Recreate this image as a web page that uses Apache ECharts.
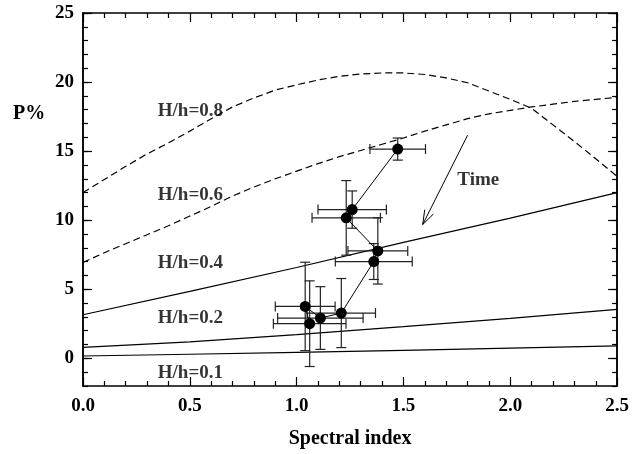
<!DOCTYPE html>
<html><head><meta charset="utf-8">
<script src="https://cdn.jsdelivr.net/npm/echarts@6/dist/echarts.min.js"></script>
<style>html,body{margin:0;padding:0;background:#fff}#c{width:632px;height:454px}</style>
</head><body><div id="c"></div>
<script>
// ---- data ----
const curveX = [0,0.1,0.2,0.3,0.4,0.5,0.6,0.7,0.8,0.9,1.0,1.1,1.2,1.3,1.4,1.5,1.6,1.7,1.8,1.9,2.0,2.1,2.2,2.3,2.4,2.5];
const h08 = [12.0,12.95,13.9,14.8,15.6,16.45,17.35,18.2,18.85,19.42,19.8,20.15,20.42,20.58,20.66,20.66,20.55,20.3,19.95,19.35,18.75,18.1,16.9,15.7,14.45,13.17];
const h06 = [6.94,7.65,8.3,8.95,9.6,10.3,11.0,11.75,12.4,13.0,13.55,14.1,14.6,15.05,15.5,15.95,16.45,16.9,17.35,17.7,17.95,18.2,18.4,18.6,18.75,18.9];
const lineX = [0,0.5,1.0,1.5,2.0,2.5];
const h04 = [3.16,4.85,6.58,8.4,10.15,12.0];
const h02 = [0.79,1.2,1.72,2.3,2.9,3.55];
const h01 = [0.17,0.3,0.43,0.58,0.74,0.91];

const ptX  = [1.473,1.26,1.232,1.38,1.361,1.209,1.111,1.04,1.061];
const ptY  = [15.15,10.77,10.17,7.78,7.01,3.28,2.92,3.76,2.51];
const errX = [0.13,0.16,0.16,0.14,0.18,0.16,0.2,0.14,0.17];
const errY = [0.8,1.35,2.7,2.4,1.3,2.5,2.27,3.2,3.1];

const curveLabels = ['H/h=0.8','H/h=0.6','H/h=0.4','H/h=0.2','H/h=0.1'];
const labelX = [0.35,0.35,0.35,0.35,0.35];
const labelY = [17.93,11.82,6.89,2.92,-1.08];

const arrowX = [1.80,1.59];
const arrowY = [16.15,9.69];
const timeLabel = 'Time';
const timeX = 1.85, timeY = 12.92;

const yMajor = [0,5,10,15,20,25];
const xName = 'Spectral index';
const yName = 'P%';

// ---- build ----
const zip = (xs, ys) => xs.map((x,i)=>[x, ys[i]]);
const FONT = 'Liberation Serif';
const txt = {fontFamily:FONT, fontWeight:'bold', fontSize:19, color:'#000'};
const axLine = {show:true, onZero:false, lineStyle:{color:'#000', width:1.5}};
const tickStyle = {color:'#000', width:1.2};

function yAx(pos, major){
  const a = {type:'value', min:-2, max:25, position:pos, axisLine:axLine, splitLine:{show:false}};
  if (major){
    a.axisTick = {show:true, inside:true, length:9, customValues:yMajor, lineStyle:tickStyle};
    a.axisLabel = pos==='left' ? Object.assign({show:true, customValues:yMajor, margin:9}, txt) : {show:false};
  } else {
    a.interval = 1;
    a.axisTick = {show:true, inside:true, length:5, lineStyle:tickStyle};
    a.axisLabel = {show:false};
  }
  return a;
}
function xAx(pos){
  const a = {type:'value', min:0, max:2.5, interval:0.5, position:pos, axisLine:axLine, splitLine:{show:false},
    axisTick:{show:true, inside:true, length:9, lineStyle:tickStyle},
    minorTick:{show:true, splitNumber:5, length:5, lineStyle:tickStyle},
    axisLabel: pos==='bottom' ? Object.assign({show:true, margin:11, formatter:v=>v.toFixed(1)}, txt) : {show:false}};
  if (pos==='bottom'){
    a.name = xName; a.nameLocation='middle'; a.nameGap=43;
    a.nameTextStyle = Object.assign({}, txt, {fontSize:20});
  }
  return a;
}

function curve(data, dashed){
  return {type:'line', data:data, xAxisIndex:0, yAxisIndex:0, showSymbol:false, symbol:'none', silent:true,
    lineStyle:{color:'#000', width:1.2, type: dashed ? [7,4] : 'solid'}, z:2};
}

const errData = ptX.map((x,i)=>[x, ptY[i], errX[i], errY[i]]);

const chart = echarts.init(document.getElementById('c'), null, {renderer:'canvas'});
chart.setOption({
  animation:false,
  backgroundColor:'#fff',
  grid:{left:83, right:14, top:13, bottom:65, containLabel:false},
  xAxis:[xAx('bottom'), xAx('top')],
  yAxis:[yAx('left',true), yAx('left',false), yAx('right',true), yAx('right',false)],
  graphic:[{type:'text', left:13, top:104, style:{text:yName, font:'bold 20px "Liberation Serif"', fill:'#000'}}],
  series:[
    curve(zip(curveX,h08), true),
    curve(zip(curveX,h06), true),
    curve(zip(lineX,h04), false),
    curve(zip(lineX,h02), false),
    curve(zip(lineX,h01), false),
    {type:'custom', xAxisIndex:0, yAxisIndex:0, data:errData, silent:true, z:3,
      renderItem:function(params, api){
        const x=api.value(0), y=api.value(1), ex=api.value(2), ey=api.value(3);
        const l=api.coord([x-ex,y]), r=api.coord([x+ex,y]), t=api.coord([x,y+ey]), b=api.coord([x,y-ey]);
        const c=5, st={stroke:'#222', lineWidth:1.2};
        const L=(x1,y1,x2,y2)=>({type:'line', shape:{x1,y1,x2,y2}, style:st});
        return {type:'group', children:[
          L(l[0],l[1],r[0],r[1]), L(l[0],l[1]-c,l[0],l[1]+c), L(r[0],r[1]-c,r[0],r[1]+c),
          L(t[0],t[1],b[0],b[1]), L(t[0]-c,t[1],t[0]+c,t[1]), L(b[0]-c,b[1],b[0]+c,b[1])
        ]};
      }},
    {type:'line', data:zip(ptX,ptY), xAxisIndex:0, yAxisIndex:0, symbol:'circle', symbolSize:11, showSymbol:true,
      itemStyle:{color:'#000'}, lineStyle:{color:'#000', width:1}, z:4, silent:true},
    {type:'custom', xAxisIndex:0, yAxisIndex:0, data:[[arrowX[0],arrowY[0],arrowX[1],arrowY[1]]], silent:true, z:3,
      renderItem:function(params, api){
        const p0=api.coord([api.value(0),api.value(1)]), p1=api.coord([api.value(2),api.value(3)]);
        const ang=Math.atan2(p0[1]-p1[1], p0[0]-p1[0]);
        const hl=15, da=0.33;
        const st={stroke:'#000', lineWidth:1};
        return {type:'group', children:[
          {type:'line', shape:{x1:p0[0],y1:p0[1],x2:p1[0],y2:p1[1]}, style:st},
          {type:'line', shape:{x1:p1[0],y1:p1[1],x2:p1[0]+hl*Math.cos(ang+da),y2:p1[1]+hl*Math.sin(ang+da)}, style:st},
          {type:'line', shape:{x1:p1[0],y1:p1[1],x2:p1[0]+hl*Math.cos(ang-da),y2:p1[1]+hl*Math.sin(ang-da)}, style:st}
        ]};
      }},
    {type:'scatter', xAxisIndex:0, yAxisIndex:0, symbolSize:0, silent:true, z:5,
      data: curveLabels.map((t,i)=>({value:[labelX[i],labelY[i]], name:t})),
      label:Object.assign({show:true, position:'right', distance:0, formatter:p=>p.name}, txt)},
    {type:'scatter', xAxisIndex:0, yAxisIndex:0, symbolSize:0, silent:true, z:5,
      data:[{value:[timeX,timeY], name:timeLabel}],
      label:Object.assign({show:true, position:'inside', formatter:p=>p.name}, txt)}
  ]
});
</script></body></html>
